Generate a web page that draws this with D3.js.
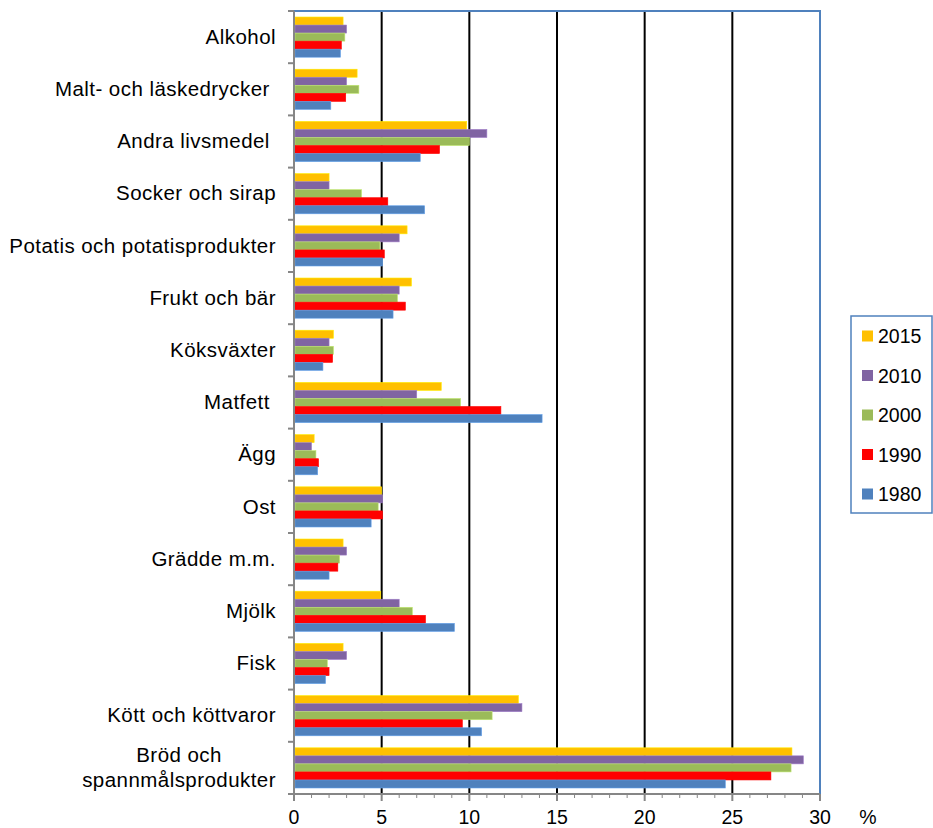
<!DOCTYPE html>
<meta charset="utf-8">
<style>
  body { margin: 0; background: #fff; }
  text { font-family: "Liberation Sans", Arial, sans-serif; fill: #000; }
</style>
<script src="https://d3js.org/d3.v7.min.js"></script>
<div id="chart"></div>
<script>
// categories, top to bottom
var categories = ["Alkohol", "Malt- och läskedrycker ", "Andra livsmedel ", "Socker och sirap",
  "Potatis och potatisprodukter", "Frukt och bär", "Köksväxter", "Matfett ", "Ägg", "Ost",
  "Grädde m.m.", "Mjölk", "Fisk", "Kött och köttvaror", "Bröd och\nspannmålsprodukter"];

var years = ["2015", "2010", "2000", "1990", "1980"];
var colors = ["#FFC000", "#8064A2", "#9BBB59", "#FF0000", "#4F81BD"];

// share in percent, same order as categories
var v2015 = [2.8, 3.6, 9.85, 2.0, 6.45, 6.7, 2.25, 8.4, 1.15, 5.0, 2.8, 4.95, 2.8, 12.8, 28.4];
var v2010 = [3.0, 3.0, 11.0, 2.0, 6.0, 6.0, 2.0, 7.0, 1.0, 5.05, 3.0, 6.0, 3.0, 13.0, 29.05];
var v2000 = [2.9, 3.7, 10.0, 3.85, 4.9, 5.9, 2.25, 9.5, 1.25, 4.8, 2.6, 6.75, 1.9, 11.3, 28.35];
var v1990 = [2.7, 2.95, 8.3, 5.35, 5.15, 6.35, 2.2, 11.8, 1.4, 5.05, 2.5, 7.5, 2.0, 9.6, 27.2];
var v1980 = [2.65, 2.1, 7.2, 7.45, 5.05, 5.65, 1.65, 14.15, 1.35, 4.4, 2.0, 9.15, 1.8, 10.7, 24.6];

var xTicks = [0, 5, 10, 15, 20, 25, 30];

var series = [v2015, v2010, v2000, v1990, v1980];

var W = 933, H = 828;
var margin = {top: 11, right: 113, bottom: 34, left: 294},
    width = W - margin.left - margin.right,
    height = H - margin.top - margin.bottom;

var svg = d3.select("#chart").append("svg")
    .attr("width", W).attr("height", H);
var g = svg.append("g")
    .attr("transform", "translate(" + margin.left + "," + margin.top + ")");

var x = d3.scaleLinear().domain([0, 30]).range([0, width]);
var y0 = d3.scaleBand().domain(categories).range([0, height]).padding(0);
var bw = y0.bandwidth();
var y1 = d3.scaleBand().domain(years).range([bw * 0.115, bw * 0.885]).padding(0);

// vertical gridlines
g.selectAll(".grid")
  .data(xTicks.filter(function(d) { return d > 0 && d < 30; }))
  .enter().append("line")
    .attr("x1", function(d) { return x(d); })
    .attr("x2", function(d) { return x(d); })
    .attr("y1", 0).attr("y2", height)
    .attr("stroke", "#000").attr("stroke-width", 2);

// plot border (top and right)
g.append("path")
  .attr("d", "M0,0H" + x(30) + "V" + height)
  .attr("fill", "none").attr("stroke", "#4F81BD").attr("stroke-width", 2);

// bars
var groups = g.selectAll(".cat")
  .data(categories)
  .enter().append("g")
    .attr("transform", function(d) { return "translate(0," + y0(d) + ")"; });

groups.selectAll("rect")
  .data(function(d, i) {
    return years.map(function(yr, j) { return {year: yr, value: series[j][i], color: colors[j]}; });
  })
  .enter().append("rect")
    .attr("x", x(0) + 1)
    .attr("y", function(d) { return y1(d.year); })
    .attr("width", function(d) { return x(d.value) - x(0) - 1; })
    .attr("height", y1.bandwidth())
    .attr("fill", function(d) { return d.color; })
    .attr("stroke", function(d) { return d3.color(d.color).brighter(0.6); })
    .attr("stroke-width", 0.6);

// bottom axis
var minor = d3.range(0, 31);
var xAxis = g.append("g").attr("transform", "translate(0," + height + ")");
xAxis.append("line").attr("x1", 0).attr("x2", x(30))
  .attr("stroke", "#868686").attr("stroke-width", 2);
xAxis.selectAll(".mt").data(minor).enter().append("line")
  .attr("x1", function(d) { return x(d); }).attr("x2", function(d) { return x(d); })
  .attr("y1", 0).attr("y2", function(d) { return d % 5 === 0 ? 7 : 4; })
  .attr("stroke", "#868686").attr("stroke-width", function(d) { return d % 5 === 0 ? 2 : 1; });
xAxis.selectAll(".tl").data(xTicks).enter().append("text")
  .attr("x", function(d) { return x(d); })
  .attr("y", 30)
  .attr("text-anchor", "middle")
  .style("font-size", "19.5px")
  .text(function(d) { return d; });
xAxis.append("text")
  .attr("x", x(30) + 48).attr("y", 30)
  .attr("text-anchor", "middle")
  .style("font-size", "19.5px")
  .text("%");

// left axis
var yAxis = g.append("g");
yAxis.append("line").attr("x1", 0).attr("x2", 0).attr("y1", 0).attr("y2", height)
  .attr("stroke", "#868686").attr("stroke-width", 2);
yAxis.selectAll(".yt").data(d3.range(0, categories.length + 1)).enter().append("line")
  .attr("x1", -6).attr("x2", 0)
  .attr("y1", function(i) { return i * bw; }).attr("y2", function(i) { return i * bw; })
  .attr("stroke", "#868686").attr("stroke-width", 2);

var labelRight = -18;
yAxis.selectAll(".lab").data(categories).enter().each(function(d) {
  var lines = d.split("\n");
  var cy = y0(d) + bw / 2;
  var t = d3.select(this).append("text")
    .style("font-size", "20.5px")
    .style("letter-spacing", "0.45px")
    .style("white-space", "pre");
  if (lines.length === 1) {
    t.attr("x", labelRight).attr("y", cy).attr("dy", "0.33em")
      .attr("text-anchor", "end").text(d);
  } else {
    t.attr("text-anchor", "middle");
    lines.forEach(function(l, k) {
      t.append("tspan").attr("x", 0)
        .attr("y", cy + 6.5 + (k - (lines.length - 1) / 2) * 25)
        .text(l);
    });
    var w = t.node().getBBox().width;
    t.selectAll("tspan").attr("x", labelRight - w / 2);
  }
});

// legend
var leg = svg.append("g").attr("transform", "translate(851,316)");
leg.append("rect").attr("width", 81).attr("height", 197)
  .attr("fill", "#fff").attr("stroke", "#4F81BD").attr("stroke-width", 1.5);
var items = leg.selectAll(".li").data(years).enter().append("g")
  .attr("transform", function(d, i) { return "translate(11," + (20 + i * 39.5) + ")"; });
items.append("rect").attr("x", 0).attr("y", -5.5).attr("width", 11).attr("height", 11)
  .attr("fill", function(d, i) { return colors[i]; });
items.append("text").attr("x", 16).attr("y", 0).attr("dy", "0.36em")
  .style("font-size", "19.5px")
  .text(function(d) { return d; });
</script>
